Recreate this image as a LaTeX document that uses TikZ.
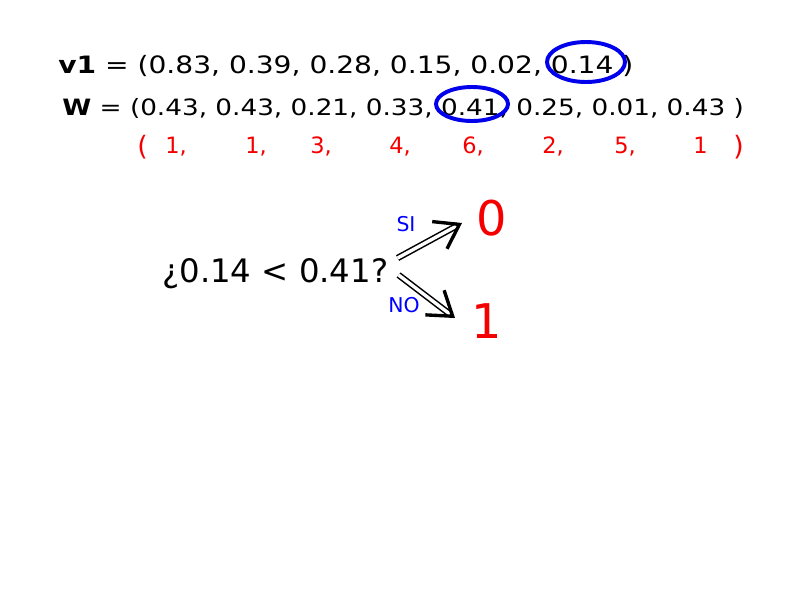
\documentclass[tikz,border=0pt]{standalone}
\usepackage{fontspec}
\setmainfont{DejaVu Sans}
\usetikzlibrary{arrows.meta}

\definecolor{ringblue}{RGB}{0,0,235}
\definecolor{bitred}{RGB}{245,0,0}

\tikzset{
	row/.style={anchor=base west, inner sep=0pt, font=\fontsize{17}{20}\selectfont},
	ring/.style={draw=ringblue, line width=2.8pt},
	idx/.style={anchor=base west, inner sep=0pt, text=bitred, font=\fontsize{16}{19}\selectfont},
	yesno/.style={inner sep=0pt, text=blue, font=\fontsize{14.5}{17}\selectfont},
	outcome/.style={anchor=base west, inner sep=0pt, text=bitred, font=\fontsize{34}{40}\selectfont},
	implies/.style={double, double distance=2.4pt, line width=1.1pt,
		-{Straight Barb[length=16pt, width=22pt, line width=2.4pt, line join=miter]}},
}

\begin{document}
\begin{tikzpicture}[x=0.025cm, y=-0.025cm]
	\useasboundingbox (0,0) rectangle (800,600);
	
	% the two vectors
	\node[row, xscale=1.176] (v1) at (58,73) {\textbf{v1} = (0.83, 0.39, 0.28, 0.15, 0.02, 0.14 )};
	\node[row, xscale=1.168, font=\fontsize{16}{19}\selectfont] (w) at (62,115) {\textbf{W} = (0.43, 0.43, 0.21, 0.33, 0.41, 0.25, 0.01, 0.43 )};
	
	\draw[ring] (586,62) ellipse [x radius=39, y radius=20];
	\draw[ring] (472,104) ellipse [x radius=36, y radius=17];
	
	% ranks under W
	\node[idx, font=\fontsize{19}{22}\selectfont] (lpar) at (137,155) {(};
	\foreach \k/\x/\t in {1/165/{1,}, 2/245/{1,}, 3/310/{3,}, 4/389/{4,}, 5/462/{6,}, 6/542/{2,}, 7/614/{5,}, 8/693/{1}}
		\node[idx] (r\k) at (\x,153) {\t};
	\node[idx, font=\fontsize{19}{22}\selectfont] (rpar) at (733,155) {)};
	
	% the comparison
	\node[row, font=\fontsize{23}{27}\selectfont] (q) at (162,282) {¿0.14 < 0.41?};
	\node[outcome] (zero) at (476,235) {0};
	\node[outcome] (one) at (471,338) {1};
	
	\draw[implies] ([shift={(9,-24)}]q.base east) -- ([shift={(-14,-12)}]zero.base west);
	\draw[implies] ([shift={(10,-7)}]q.base east) -- ([shift={(-16,-20)}]one.base west);
	
	\node[yesno] (si) at (406,224) {SI};
	\node[yesno] (no) at (404,305) {NO};
\end{tikzpicture}
\end{document}
